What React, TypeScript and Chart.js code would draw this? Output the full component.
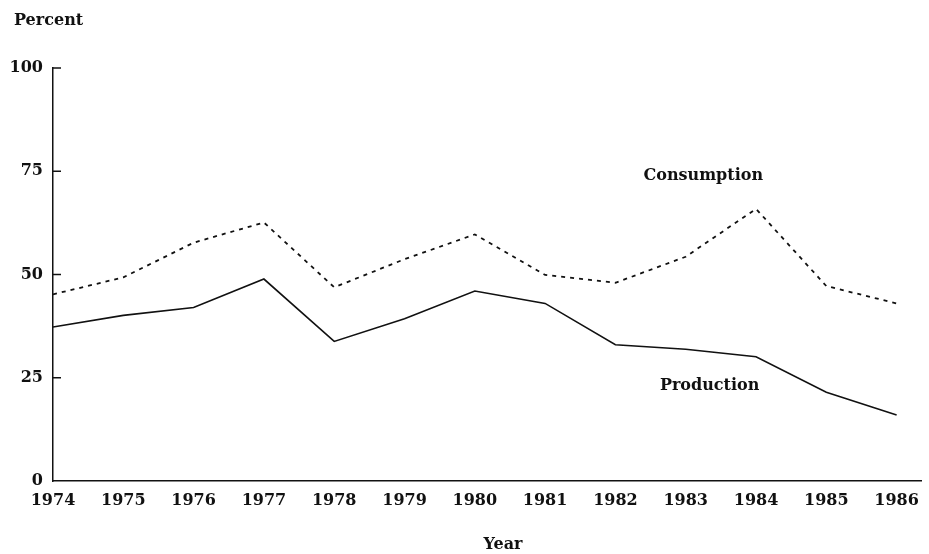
import React, { useEffect, useRef } from 'react';
import { Chart, registerables } from 'chart.js';

Chart.register(...registerables);

// ---- data ----
const years = [1974, 1975, 1976, 1977, 1978, 1979, 1980, 1981, 1982, 1983, 1984, 1985, 1986];
const production = [37.3, 40.1, 42.0, 48.9, 33.8, 39.3, 46.0, 43.0, 33.0, 31.9, 30.1, 21.5, 16.0];
const consumption = [45.2, 49.3, 57.7, 62.6, 46.9, 53.7, 59.7, 49.9, 48.0, 54.3, 65.9, 47.2, 43.0];
const yTickValues = [0, 25, 50, 75, 100];
const yInwardTicks = [25, 50, 75, 100];
const seriesLabelText = ['Consumption', 'Production'];
const seriesLabelYear = [1983.25, 1983.34];
const seriesLabelValue = [74, 23.1];
const yAxisTitle = 'Percent';
const xAxisTitle = 'Year';

const FONT = '"DejaVu Serif", "Liberation Serif", serif';
const INK = '#111';

const textPlugin = {
  id: 'paperTexts',
  afterDraw(chart: any) {
    const ctx = chart.ctx;
    const xs = chart.scales.x;
    const ys = chart.scales.y;
    ctx.save();
    ctx.strokeStyle = INK;
    ctx.lineWidth = 1.5;
    yInwardTicks.forEach((v) => {
      const py = ys.getPixelForValue(v);
      ctx.beginPath();
      ctx.moveTo(xs.left, py);
      ctx.lineTo(xs.left + 8, py);
      ctx.stroke();
    });
    ctx.fillStyle = INK;
    ctx.font = `bold 16px ${FONT}`;
    ctx.textBaseline = 'middle';
    ctx.textAlign = 'center';
    seriesLabelText.forEach((t, i) => {
      ctx.fillText(t, xs.getPixelForValue(seriesLabelYear[i]), ys.getPixelForValue(seriesLabelValue[i]));
    });
    ctx.textAlign = 'left';
    ctx.fillText(yAxisTitle, 14, 21);
    ctx.textAlign = 'center';
    ctx.fillText(xAxisTitle, 503, 545);
    ctx.restore();
  },
};

export default function App() {
  const ref = useRef<HTMLCanvasElement | null>(null);

  useEffect(() => {
    if (!ref.current) return;
    const chart = new Chart(ref.current, {
      type: 'line',
      data: {
        datasets: [
          {
            label: 'Consumption',
            data: years.map((y, i) => ({ x: y, y: consumption[i] })),
            borderColor: INK,
            borderWidth: 1.8,
            borderDash: [4, 5],
            pointRadius: 0,
            tension: 0,
            fill: false,
          },
          {
            label: 'Production',
            data: years.map((y, i) => ({ x: y, y: production[i] })),
            borderColor: INK,
            borderWidth: 1.6,
            pointRadius: 0,
            tension: 0,
            fill: false,
          },
        ],
      },
      options: {
        animation: false,
        responsive: true,
        maintainAspectRatio: false,
        layout: { padding: { top: 68, right: 4, left: 0, bottom: 0 } },
        plugins: {
          legend: { display: false },
          tooltip: { enabled: false },
          title: { display: false },
        },
        scales: {
          x: {
            type: 'linear',
            min: 1974,
            max: 1986.35,
            grid: { display: false, drawTicks: false },
            border: { display: true, color: INK, width: 1.5 },
            afterBuildTicks: (scale: any) => {
              scale.ticks = years.map((v) => ({ value: v }));
            },
            afterFit: (scale: any) => {
              scale.height = 73;
            },
            ticks: {
              autoSkip: false,
              maxRotation: 0,
              padding: 10,
              color: INK,
              font: { family: FONT, size: 16, weight: 'bold' },
              callback: (v: any) => String(v),
            },
          },
          y: {
            type: 'linear',
            min: 0,
            max: 100,
            grid: { display: false, drawTicks: false },
            border: { display: true, color: INK, width: 1.5 },
            afterBuildTicks: (scale: any) => {
              scale.ticks = yTickValues.map((v) => ({ value: v }));
            },
            afterFit: (scale: any) => {
              scale.width = 53;
            },
            ticks: {
              padding: 10,
              color: INK,
              font: { family: FONT, size: 16, weight: 'bold' },
              callback: (v: any) => String(v),
            },
          },
        },
      },
      plugins: [textPlugin],
    } as any);
    return () => chart.destroy();
  }, []);

  return (
    <div style={{ position: 'absolute', left: 0, top: 0, width: 929, height: 554, background: '#fff' }}>
      <canvas ref={ref} />
    </div>
  );
}
